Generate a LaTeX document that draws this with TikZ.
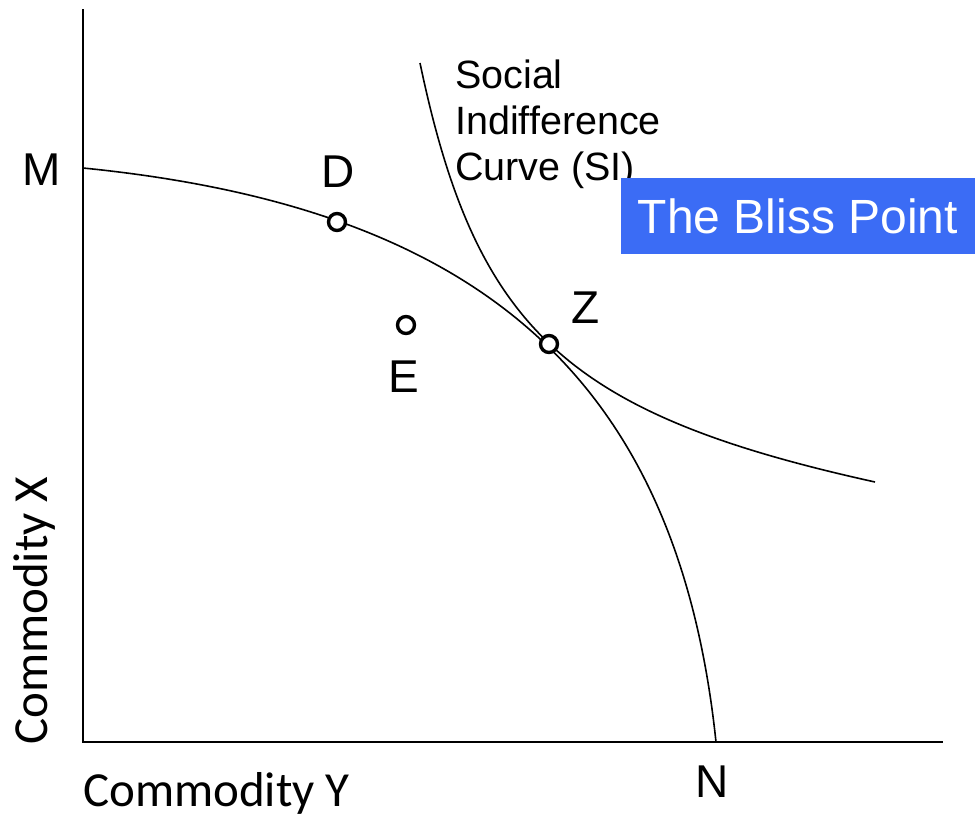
\documentclass[tikz,border=0pt]{standalone}
\usepackage{fontspec}
\setmainfont{Liberation Sans}
\newfontfamily\calfont{Carlito}
\definecolor{blissblue}{RGB}{59,108,245}
\begin{document}
\begin{tikzpicture}[x=1pt,y=-1pt,
  axis/.style={line width=2pt},
  curve/.style={line width=1.6pt},
  ptmark/.style={circle,draw,line width=3.4pt,fill=white,minimum size=17pt,inner sep=0pt},
  lbl/.style={font=\fontsize{46}{55}\selectfont,inner sep=0pt,anchor=base},
  axlbl/.style={font=\calfont\fontsize{49}{59}\selectfont,inner sep=0pt}]
\useasboundingbox (0,0) rectangle (975,819);
% axes
\coordinate (O) at (83,742);
\coordinate (ytop) at (83,9);
\coordinate (xend) at (943,742);
\draw[axis] (ytop) -- (O) -- (xend);
% production possibility curve M-N
\coordinate (Mpt) at (83,168);
\coordinate (Npt) at (716,742);
\draw[curve] (Mpt) .. controls (473,207) and (677,372) .. (Npt);
% social indifference curve
\coordinate (SIs) at (420,63);
\coordinate (SIe) at (875,482);
\draw[curve] (SIs) .. controls (476,330) and (567,414) .. (SIe);
% points
\node[ptmark] (D) at (337,222) {};
\node[ptmark] (E) at (406,325) {};
\node[ptmark] (Z) at (549,344) {};
% labels
\node[lbl] (Mlbl) at (42,185) {M};
\node[lbl] (Dlbl) at (338,187) {D};
\node[lbl] (Elbl) at (404,392) {E};
\node[lbl] (Zlbl) at (586,323) {Z};
\node[lbl] (Nlbl) at (712,797) {N};
\node[align=left,anchor=north west,inner sep=0pt,font=\fontsize{39.5}{46}\selectfont] (silbl) at (455,60) {Social\\Indifference\\Curve (SI)};
\node[fill=blissblue,text=white,minimum width=354pt,minimum height=76pt,inner sep=0pt,font=\fontsize{48}{58}\selectfont] (bliss) at (798,216) {The Bliss Point};
\node[axlbl,anchor=base west] (ylbl) at (83,806) {Commodity Y};
\node[axlbl,rotate=90,anchor=base west] (xlbl) at (47,745) {Commodity X};
\end{tikzpicture}
\end{document}
